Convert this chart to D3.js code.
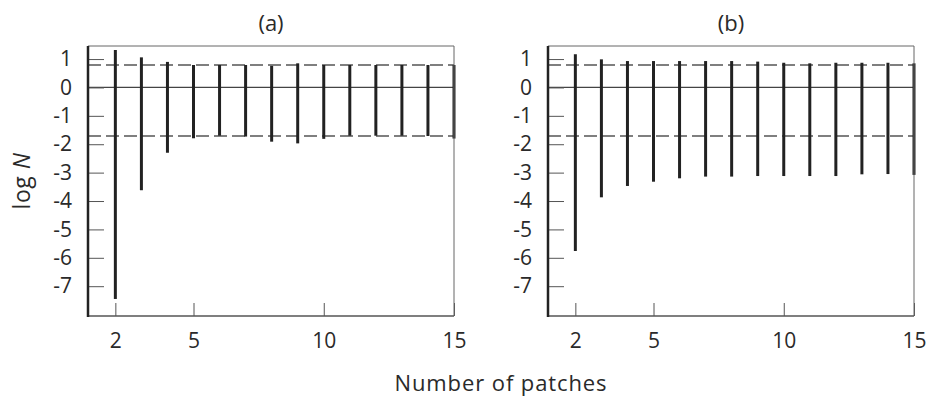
<!DOCTYPE html>
<html>
<head>
<meta charset="utf-8">
<script src="https://cdn.jsdelivr.net/npm/d3@7"></script>
<style>
  body { margin: 0; background: #fff; }
  svg { display: block; font-family: 'Open Sans', 'Noto Sans', sans-serif; }
</style>
</head>
<body>
<svg id="chart"></svg>
<script>
// number of patches (x) and the range of log N for each one
const patches = [2, 3, 4, 5, 6, 7, 8, 9, 10, 11, 12, 13, 14, 15];
const upperA = [1.32, 1.06, 0.90, 0.79, 0.79, 0.79, 0.76, 0.85, 0.79, 0.79, 0.79, 0.79, 0.79, 0.79];
const lowerA = [-7.45, -3.62, -2.30, -1.79, -1.70, -1.73, -1.91, -1.97, -1.81, -1.70, -1.70, -1.70, -1.71, -1.80];
const upperB = [1.17, 0.99, 0.93, 0.93, 0.93, 0.93, 0.93, 0.91, 0.87, 0.85, 0.87, 0.87, 0.87, 0.85];
const lowerB = [-5.76, -3.87, -3.47, -3.32, -3.20, -3.14, -3.14, -3.12, -3.12, -3.12, -3.12, -3.06, -3.05, -3.08];
const refLines = [0.79, -1.71]; // dashed reference levels
const yTicks = [1, 0, -1, -2, -3, -4, -5, -6, -7];
const xTicks = [2, 5, 10, 15];
const panelTitles = ['(a)', '(b)'];

const width = 928;
const height = 399;
const plotTop = 46;
const plotBottom = 316;
const panelLefts = [88, 548];
const panelWidth = 366;
const fontSize = 21;
const labelSize = 22;
const textColor = '#2a2a2a';

const svg = d3.select('#chart').attr('width', width).attr('height', height);

const y = d3.scaleLinear([-8.05, 1.46], [plotBottom, plotTop]);

function drawPanel(left, upper, lower, title) {
  const right = left + panelWidth;
  const x = d3.scaleLinear([0.95, 15], [left, right]);
  const g = svg.append('g');

  /**
   * 参考线
   */
  g.append('line')
    .attr('x1', left).attr('x2', right)
    .attr('y1', y(0)).attr('y2', y(0))
    .attr('stroke', '#444').attr('stroke-width', 1.3);
  g.selectAll('.ref')
    .data(refLines)
    .join('line')
    .attr('class', 'ref')
    .attr('x1', left).attr('x2', right)
    .attr('y1', (d) => y(d)).attr('y2', (d) => y(d))
    .attr('stroke', '#555').attr('stroke-width', 1.3)
    .attr('stroke-dasharray', '13,5');

  /**
   * 竖线
   */
  g.selectAll('.bar')
    .data(patches)
    .join('line')
    .attr('class', 'bar')
    .attr('x1', (d) => x(d)).attr('x2', (d) => x(d))
    .attr('y1', (d, i) => y(upper[i]))
    .attr('y2', (d, i) => y(lower[i]))
    .attr('stroke', '#222').attr('stroke-width', 3);

  /**
   * 坐标轴
   */
  const yAxis = d3.axisLeft(y).tickValues(yTicks).tickSize(-16).tickPadding(16).tickFormat((d) => String(d));
  g.append('g')
    .attr('transform', `translate(${left},0)`)
    .call(yAxis)
    .call((a) => a.select('.domain').remove())
    .call((a) => a.selectAll('.tick line').attr('stroke', '#555'))
    .call((a) => a.selectAll('.tick text').attr('fill', textColor).style('font-size', fontSize + 'px'))
    .attr('font-family', null);

  const xAxis = d3.axisBottom(x).tickValues(xTicks).tickSize(-13).tickPadding(17);
  g.append('g')
    .attr('transform', `translate(0,${plotBottom})`)
    .call(xAxis)
    .call((a) => a.select('.domain').remove())
    .call((a) => a.selectAll('.tick line').attr('stroke', '#555'))
    .call((a) => a.selectAll('.tick text').attr('fill', textColor).style('font-size', fontSize + 'px'))
    .attr('font-family', null);

  // frame
  g.append('path')
    .attr('d', `M${left},${plotTop}H${right}V${plotBottom}`)
    .attr('fill', 'none').attr('stroke', '#666').attr('stroke-width', 1);
  g.append('line')
    .attr('x1', left).attr('x2', right).attr('y1', plotBottom).attr('y2', plotBottom)
    .attr('stroke', '#555').attr('stroke-width', 1.5);
  g.append('line')
    .attr('x1', left).attr('x2', left).attr('y1', plotTop).attr('y2', plotBottom + 1)
    .attr('stroke', '#222').attr('stroke-width', 2.5);

  g.append('text')
    .attr('x', (left + right) / 2).attr('y', 31)
    .attr('text-anchor', 'middle')
    .attr('fill', textColor)
    .style('font-size', labelSize + 'px')
    .text(title);
}

drawPanel(panelLefts[0], upperA, lowerA, panelTitles[0]);
drawPanel(panelLefts[1], upperB, lowerB, panelTitles[1]);

// y label
const ylab = svg.append('text')
  .attr('transform', `translate(30,${(plotTop + plotBottom) / 2}) rotate(-90)`)
  .attr('text-anchor', 'middle')
  .attr('fill', textColor)
  .style('font-size', '23px')
  .style('letter-spacing', '0.5px');
ylab.append('tspan').text('log ');
ylab.append('tspan').style('font-style', 'italic').text('N');

// x label
svg.append('text')
  .attr('x', (panelLefts[0] + panelLefts[1] + panelWidth) / 2)
  .attr('y', 391)
  .attr('text-anchor', 'middle')
  .attr('fill', textColor)
  .style('font-size', labelSize + 'px')
  .style('letter-spacing', '0.9px')
  .text('Number of patches');
</script>
</body>
</html>
